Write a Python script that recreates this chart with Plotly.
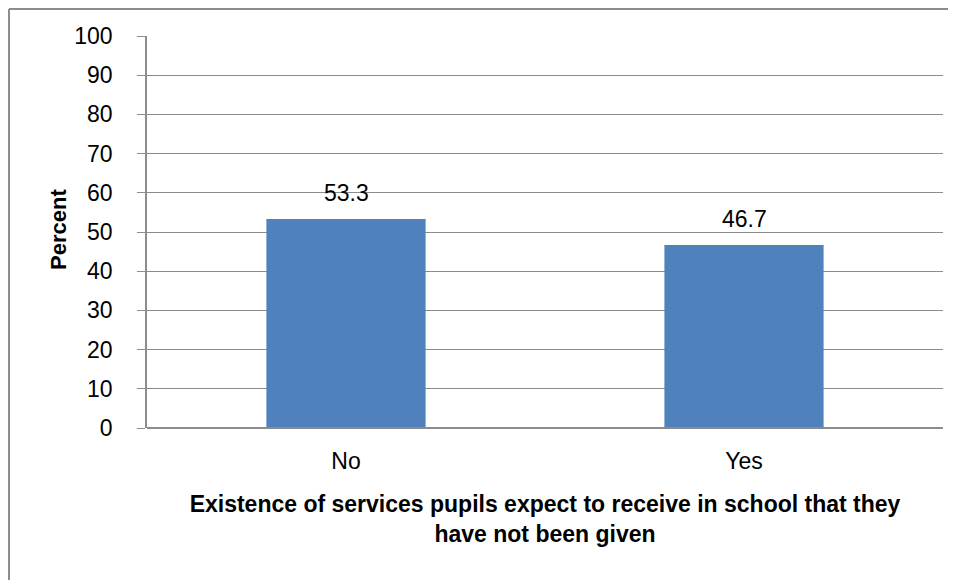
import plotly.graph_objects as go

categories = ["No", "Yes"]
values = [53.3, 46.7]
value_labels = ["53.3", "46.7"]
y_ticks = [0, 10, 20, 30, 40, 50, 60, 70, 80, 90, 100]

FONT = "Liberation Sans, Arial"

# page body has an 8px margin; figure sized to fit window
W, H = 950, 572
L, R, T, B = 139, 15, 28, 152
PW, PH = W - L - R, H - T - B

def px_x(fx):
    return (fx - L) / PW

def px_y(fy):
    return (H - B - fy) / PH

fig = go.Figure()
fig.add_trace(go.Bar(
    x=categories, y=values,
    marker=dict(color="#4F81BD", line=dict(width=0)),
))
for c, v, t in zip(categories, values, value_labels):
    fig.add_annotation(x=c, y=v, text=t, showarrow=False, yanchor="bottom",
                       yshift=11, font=dict(family=FONT, size=23, color="#000000"))

# y-axis title
fig.add_annotation(xref="paper", yref="paper", x=px_x(50), y=px_y(222),
                   text="<b>Percent</b>", textangle=-90, showarrow=False,
                   xanchor="center", yanchor="middle",
                   font=dict(family=FONT, size=22, color="#000000"))

fig.update_layout(
    width=W, height=H,
    margin=dict(l=L, r=R, t=T, b=B),
    paper_bgcolor="white", plot_bgcolor="white",
    bargap=0.6,
    showlegend=False,
    font=dict(family=FONT, size=23, color="#000000"),
    xaxis=dict(
        showgrid=False, showline=False, ticks="",
        tickfont=dict(family=FONT, size=23),
        ticklabelstandoff=17,
        title=dict(
            text="<b>Existence of services pupils expect to receive in school that they<br>have not been given</b>",
            font=dict(family=FONT, size=23), standoff=22),
    ),
    yaxis=dict(
        range=[0, 100], tickvals=y_ticks,
        showgrid=True, gridcolor="#8C8C8C", gridwidth=1.3,
        showline=True, linecolor="#8C8C8C", linewidth=1.5,
        ticks="outside", ticklen=8, tickcolor="#8C8C8C", tickwidth=1.3,
        tickfont=dict(family=FONT, size=23),
        ticklabelstandoff=20,
        zeroline=False,
    ),
    shapes=[
        dict(type="line", xref="paper", yref="paper", x0=0, x1=1, y0=0, y1=0,
             line=dict(color="#8C8C8C", width=2)),
        dict(type="line", xref="paper", yref="paper",
             x0=px_x(1), x1=px_x(1), y0=px_y(1), y1=px_y(700),
             line=dict(color="#8C8C8C", width=2)),
        dict(type="line", xref="paper", yref="paper",
             x0=px_x(1), x1=px_x(940), y0=px_y(1), y1=px_y(1),
             line=dict(color="#8C8C8C", width=2)),
    ],
)

fig.write_html("out.html")
